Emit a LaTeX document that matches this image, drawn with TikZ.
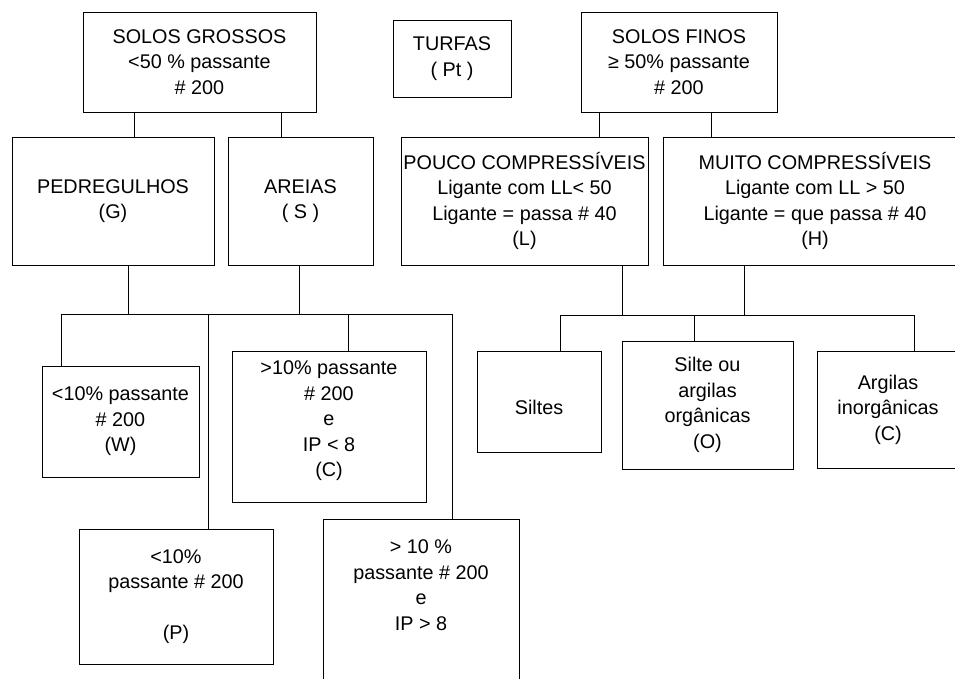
\documentclass[tikz,border=0pt]{standalone}
\usepackage{fontspec}
\setmainfont{Liberation Sans}
\usepackage{tikz}

\tikzset{
  caixa/.style={draw, line width=1pt, align=center, inner sep=0pt,
    font=\fontsize{19.8}{25.5}\selectfont},
  liga/.style={line width=1pt}
}

\begin{document}
\begin{tikzpicture}[x=1pt,y=1pt,yscale=-1]
        \useasboundingbox (0,0) rectangle (955,678);
        \clip (0,0) rectangle (955,678);

        % Top row
        \node [caixa, minimum width=233, minimum height=100] (gross) at (199.5,62) {SOLOS GROSSOS\\<50 \% passante\\\# 200};
        \node [caixa, minimum width=118, minimum height=77] (turf) at (452,58.5) {TURFAS\\( Pt )};
        \node [caixa, minimum width=196, minimum height=100] (fino) at (679,62) {SOLOS FINOS\\≥ 50\% passante\\\# 200};

        % Second row
        \node [caixa, minimum width=202, minimum height=128] (pedr) at (113,201) {PEDREGULHOS\\(G)};
        \node [caixa, minimum width=145, minimum height=128] (areia) at (300.5,201) {AREIAS\\( S )};
        \node [caixa, minimum width=247, minimum height=128] (pouco) at (524.5,201) {POUCO COMPRESSÍVEIS\\Ligante com LL< 50\\Ligante =  passa \# 40\\(L)};
        \node [caixa, minimum width=304, minimum height=128] (muito) at (815,201) {MUITO COMPRESSÍVEIS\\Ligante com LL > 50\\Ligante = que passa \# 40\\(H)};

        % Coarse soils, third level
        \node [caixa, minimum width=157, minimum height=111] (bemg) at (120.5,421.5) {<10\% passante\\\# 200\\(W)};
        \node [caixa, minimum width=194, minimum height=151] (argc) at (329,426.5) {>10\% passante\\\# 200\\e\\IP  < 8\\(C)\\[-10pt]\mbox{}};
        \node [caixa, minimum width=194, minimum height=135] (malg) at (176,596.5) {<10\%\\passante \# 200\\\mbox{}\\(P)};
        \node [caixa, minimum width=196, minimum height=234] (argcg) at (421,636) {> 10 \%\\passante \# 200\\e\\IP  > 8\\\mbox{}\\\mbox{}\\\mbox{}\\\mbox{}};

        % Fine soils, third level
        \node [caixa, minimum width=124, minimum height=101] (silt) at (539,401.5) {\mbox{}\\Siltes};
        \node [caixa, minimum width=171, minimum height=128] (orga) at (707.5,405) {Silte ou\\argilas\\orgânicas\\(O)};
        \node [caixa, minimum width=142, minimum height=117] (inorg) at (888,409.5) {Argilas\\inorgânicas\\(C)};

        % Connector positions
        \coordinate (xg1) at (134,0);
        \coordinate (xg2) at (281,0);
        \coordinate (xf1) at (599,0);
        \coordinate (xf2) at (711,0);
        \coordinate (xp) at (128,0);
        \coordinate (xa) at (299,0);
        \coordinate (xw) at (61,0);
        \coordinate (xm) at (208,0);
        \coordinate (xc) at (348,0);
        \coordinate (xcg) at (452,0);
        \coordinate (xl) at (622,0);
        \coordinate (xh) at (744,0);
        \coordinate (xs) at (560,0);
        \coordinate (xo) at (694,0);
        \coordinate (xi) at (914,0);
        \coordinate (busg) at (0,314);
        \coordinate (busf) at (0,315);

        % Connectors
        \draw [liga] (gross.south -| xg1) -- (pedr.north -| xg1);
        \draw [liga] (gross.south -| xg2) -- (areia.north -| xg2);
        \draw [liga] (fino.south -| xf1) -- (pouco.north -| xf1);
        \draw [liga] (fino.south -| xf2) -- (muito.north -| xf2);

        \draw [liga] (pedr.south -| xp) -- (busg -| xp);
        \draw [liga] (areia.south -| xa) -- (busg -| xa);
        \draw [liga] (bemg.north -| xw) -- (busg -| xw) -- (busg -| xcg) -- (argcg.north -| xcg);
        \draw [liga] (busg -| xm) -- (malg.north -| xm);
        \draw [liga] (busg -| xc) -- (argc.north -| xc);

        \draw [liga] (pouco.south -| xl) -- (busf -| xl);
        \draw [liga] (muito.south -| xh) -- (busf -| xh);
        \draw [liga] (silt.north -| xs) -- (busf -| xs) -- (busf -| xi) -- (inorg.north -| xi);
        \draw [liga] (busf -| xo) -- (orga.north -| xo);

\end{tikzpicture}
\end{document}
